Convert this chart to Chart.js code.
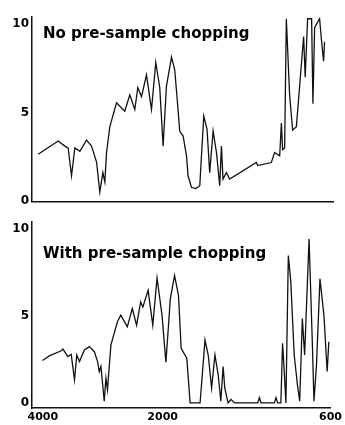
<!DOCTYPE html>
<html>
<head>
<meta charset="utf-8">
<script src="https://cdn.jsdelivr.net/npm/chart.js@4"></script>
<style>
  html, body { margin: 0; padding: 0; background: #fff; }
  .panel { width: 345px; position: relative; }
</style>
</head>
<body>
<div class="panel"><canvas id="topChart" width="345" height="212"></canvas></div>
<div class="panel"><canvas id="bottomChart" width="345" height="213"></canvas></div>
<script>
// ---- data (wavenumber, cm-1 / absorbance scale 0-10) ----
const xTickWn = [4000, 2000, 600];
const yTicks = [0, 5, 10];

const topWn = [4078, 3747, 3636, 3582, 3526, 3471, 3388, 3278, 3195, 3112, 3058, 3008, 2975, 2947,
  2892, 2782, 2645, 2562, 2479, 2430, 2368, 2286, 2203, 2132, 2066, 2011, 1978, 1936, 1909, 1882,
  1868, 1840, 1812, 1799, 1771, 1736, 1702, 1688, 1669, 1642, 1620, 1592, 1564, 1537, 1523, 1510,
  1482, 1455, 1234, 1223, 1110, 1083, 1041, 1027, 1017, 1000, 986, 959, 934, 903, 876, 843, 830,
  810, 777, 766, 752, 711, 694, 678, 670];
const topAbs = [2.64, 3.39, 3.1, 3.0, 1.42, 3.0, 2.8, 3.44, 3.1, 2.2, 0.5, 1.6, 1.07, 2.74,
  4.2, 5.55, 5.07, 6.0, 5.17, 6.4, 5.9, 7.13, 5.17, 7.83, 6.4, 3.1, 6.48, 8.13, 7.4, 5.17,
  3.95, 3.67, 2.55, 1.42, 0.77, 0.7, 0.86, 2.55, 4.8, 4.04, 1.6, 3.95, 2.74, 0.86, 3.1, 1.24,
  1.6, 1.24, 2.17, 2.0, 2.17, 2.74, 2.55, 4.4, 2.9, 3.0, 10.3, 6.0, 4.0, 4.2, 6.5, 9.3, 7.0,
  10.3, 10.3, 5.5, 9.8, 10.3, 9.0, 7.9, 9.0];

const botWn = [4005, 3884, 3691, 3664, 3582, 3526, 3471, 3433, 3388, 3306, 3223, 3140, 3086, 3058,
  3030, 2975, 2947, 2921, 2864, 2755, 2699, 2590, 2507, 2435, 2368, 2330, 2243, 2165, 2094, 2011,
  1973, 1936, 1901, 1868, 1846, 1799, 1771, 1688, 1647, 1620, 1592, 1564, 1537, 1515, 1496, 1482,
  1455, 1430, 1400, 1207, 1193, 1179, 1069, 1055, 1041, 1014, 1000, 986, 972, 952, 931, 903, 876,
  857, 835, 816, 779, 752, 738, 717, 688, 655, 628, 614];
const botAbs = [2.44, 2.72, 3.0, 3.1, 2.67, 2.8, 1.33, 2.76, 2.38, 3.05, 3.24, 2.95, 2.38, 1.81,
  2.1, 0.1, 1.43, 0.76, 3.33, 4.67, 5.05, 4.38, 5.43, 4.48, 5.81, 5.52, 6.48, 4.48, 7.18, 5.05,
  2.34, 6.0, 7.33, 6.19, 3.14, 2.57, 0, 0, 3.62, 2.76, 0.86, 2.76, 1.62, 0.1, 2.1, 0.86,
  0, 0.2, 0, 0, 0.3, 0, 0, 0.3, 0, 0, 3.43, 1.8, 0, 8.48, 6.95, 2.76, 1.05,
  0.1, 4.86, 2.76, 9.43, 3.52, 0.1, 2.19, 7.14, 5.05, 1.81, 3.52];

// chart paper changes scale at 2000 cm-1 (2x expansion below)
function toAxis(w) { return w >= 2000 ? 4000 - w : 2000 + 2 * (2000 - w); }
function fromAxis(u) { return u <= 2000 ? 4000 - u : 2000 - (u - 2000) / 2; }

const panelLabel = {
  id: 'panelLabel',
  afterDraw(chart, args, opts) {
    const ctx = chart.ctx;
    ctx.save();
    ctx.font = opts.font;
    ctx.fillStyle = '#000';
    ctx.textBaseline = 'middle';
    ctx.fillText(opts.text, opts.x, opts.y);
    ctx.restore();
  }
};

function makeChart(id, wn, abs, opt) {
  return new Chart(document.getElementById(id), {
    type: 'line',
    data: {
      datasets: [{
        data: wn.map((w, i) => ({ x: toAxis(w), y: abs[i] })),
        borderColor: '#111',
        borderWidth: 1.3,
        pointRadius: 0,
        tension: 0,
        fill: false,
      }],
    },
    options: {
      responsive: false,
      animation: false,
      events: [],
      layout: { padding: { top: opt.padTop, bottom: opt.padBottom, left: 0, right: 12 } },
      plugins: {
        legend: { display: false },
        tooltip: { enabled: false },
        panelLabel: { text: opt.label, x: 43, y: opt.labelY, font: 'bold 15px "DejaVu Sans"' },
      },
      scales: {
        x: {
          type: 'linear',
          min: toAxis(4180),
          max: toAxis(600),
          grid: { display: false, drawTicks: false },
          border: { display: true, color: '#111', width: 1.5 },
          afterBuildTicks: (s) => { s.ticks = xTickWn.map(w => ({ value: toAxis(w) })); },
          afterFit: (s) => { s.height = opt.xHeight; },
          ticks: {
            display: opt.showX,
            padding: 3,
            color: '#000',
            font: { family: 'DejaVu Sans', weight: 'bold', size: 11 },
            callback: (v) => String(Math.round(fromAxis(v))),
            maxRotation: 0,
          },
        },
        y: {
          min: opt.yMin,
          max: 10.4,
          grid: { display: false, drawTicks: false },
          border: { display: true, color: '#111', width: 1.5 },
          afterBuildTicks: (s) => { s.ticks = yTicks.map(v => ({ value: v })); },
          afterFit: (s) => { s.width = 32; },
          ticks: {
            padding: 3,
            color: '#000',
            font: { family: 'DejaVu Sans', weight: 'bold', size: 12 },
          },
        },
      },
    },
    plugins: [panelLabel],
  });
}

makeChart('topChart', topWn, topAbs, {
  label: 'No pre-sample chopping', labelY: 34,
  padTop: 17, padBottom: 9, xHeight: 0, showX: false, yMin: -0.05,
});
makeChart('bottomChart', botWn, botAbs, {
  label: 'With pre-sample chopping', labelY: 42,
  padTop: 9, padBottom: 0, xHeight: 17, showX: true, yMin: -0.29,
});
</script>
</body>
</html>
